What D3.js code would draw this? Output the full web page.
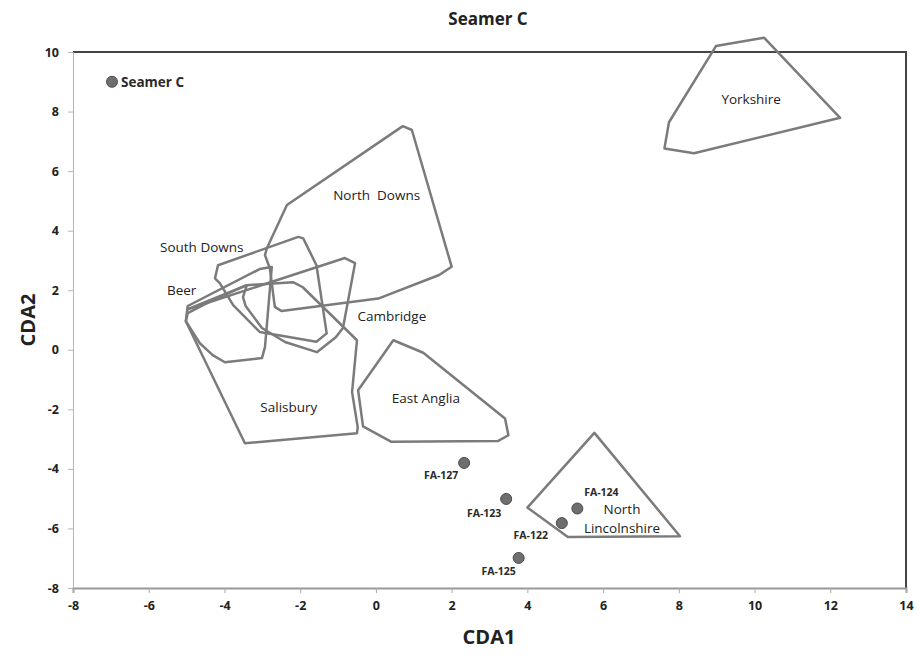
<!DOCTYPE html>
<html>
<head>
<meta charset="utf-8">
<script src="https://cdn.jsdelivr.net/npm/d3@7"></script>
<style>
  html, body { margin: 0; padding: 0; background: #fff; }
  svg { display: block; }
</style>
</head>
<body>
<svg id="chart" width="917" height="655"></svg>
<script>
// ---- data ----
const xTicks = [-8, -6, -4, -2, 0, 2, 4, 6, 8, 10, 12, 14];
const yTicks = [-8, -6, -4, -2, 0, 2, 4, 6, 8, 10];

const pointNames = ["Seamer C", "FA-127", "FA-123", "FA-124", "FA-122", "FA-125"];
const pointX = [-6.97, 2.33, 3.44, 5.32, 4.91, 3.77];
const pointY = [9.00, -3.80, -5.01, -5.33, -5.82, -6.99];

const yorkshire = [[8.98,10.20],[10.25,10.48],[12.26,7.79],[8.40,6.60],[7.62,6.76],[7.74,7.64]];
const northDowns = [[-2.35,4.86],[0.71,7.51],[0.95,7.38],[2.00,2.79],[1.67,2.51],[0.06,1.72],[-2.49,1.30],[-2.67,1.44],[-2.80,2.73],[-2.93,3.18],[-2.88,3.41]];
const southDowns = [[-4.17,2.84],[-2.05,3.79],[-1.92,3.74],[-1.57,2.84],[-1.30,0.55],[-1.57,0.27],[-3.07,0.60],[-3.77,1.50],[-4.12,2.23],[-4.25,2.40]];
const beer = [[-4.97,1.47],[-3.07,2.71],[-2.75,2.78],[-2.93,0.09],[-3.01,-0.28],[-3.99,-0.42],[-4.31,-0.18],[-4.65,0.22],[-5.02,0.96]];
const cambridge = [[-4.97,1.36],[-0.82,3.08],[-0.55,2.91],[-0.87,0.73],[-1.06,0.42],[-1.56,-0.08],[-2.40,0.26],[-3.01,0.73],[-3.44,1.47],[-3.51,1.77],[-3.41,2.17]];
const salisbury = [[-5.02,0.96],[-3.46,-3.14],[-0.50,-2.80],[-0.48,-2.60],[-0.63,-1.42],[-0.50,0.32],[-1.93,2.10],[-2.19,2.27],[-3.41,2.17],[-4.31,1.67],[-4.97,1.23]];
const eastAnglia = [[0.46,0.32],[1.25,-0.10],[3.41,-2.31],[3.50,-2.87],[3.23,-3.06],[0.41,-3.09],[-0.34,-2.57],[-0.47,-1.36]];
const northLincs = [[5.77,-2.79],[8.03,-6.26],[5.07,-6.29],[4.00,-5.30]];

const regionNames = ["Yorkshire", "North  Downs", "South Downs", "Beer", "Cambridge", "Salisbury", "East Anglia", "North\nLincolnshire"];
const regionPolys = [yorkshire, northDowns, southDowns, beer, cambridge, salisbury, eastAnglia, northLincs];
const regionLabelX = [9.91, 0.02, -4.60, -5.13, 0.42, -2.30, 1.32, 6.50];
const regionLabelY = [8.42, 5.19, 3.45, 2.00, 1.12, -1.93, -1.63, -5.69];

// ---- layout ----
const svg = d3.select("#chart");
const mL = 73, mR = 906, mT = 52, mB = 588;
const x = d3.scaleLinear().domain([-8, 14]).range([mL, mR]);
const y = d3.scaleLinear().domain([-8, 10]).range([mB, mT]);
const font = "'Open Sans', 'Liberation Sans', sans-serif";

// frame: top and right dark borders
svg.append("line").attr("x1", mL).attr("x2", mR).attr("y1", mT).attr("y2", mT)
  .attr("stroke", "#444").attr("stroke-width", 2);
svg.append("line").attr("x1", mR).attr("x2", mR).attr("y1", mT - 1).attr("y2", mB)
  .attr("stroke", "#444").attr("stroke-width", 2);

// y axis
const yAxis = svg.append("g").attr("transform", `translate(${mL},0)`)
  .call(d3.axisLeft(y).tickValues(yTicks).tickSize(5).tickPadding(9).tickFormat(d3.format("d")));
yAxis.select(".domain").attr("stroke", "#b5b5b5").attr("stroke-width", 1);
yAxis.selectAll(".tick line").attr("stroke", "#b5b5b5");
yAxis.selectAll(".tick text").attr("font-family", font).attr("font-weight", "bold")
  .attr("font-size", 12.5).attr("fill", "#222").text(d => d < 0 ? "-" + Math.abs(d) : d);

// x axis
const xAxis = svg.append("g").attr("transform", `translate(0,${mB})`)
  .call(d3.axisBottom(x).tickValues(xTicks).tickSize(5).tickPadding(8).tickFormat(d3.format("d")));
xAxis.select(".domain").attr("stroke", "#999").attr("stroke-width", 2);
xAxis.selectAll(".tick line").attr("stroke", "#aaa");
xAxis.selectAll(".tick text").attr("font-family", font).attr("font-weight", "bold")
  .attr("font-size", 12.5).attr("fill", "#222").text(d => d < 0 ? "-" + Math.abs(d) : d);

// polygons
const line = d3.line().x(d => x(d[0])).y(d => y(d[1])).curve(d3.curveLinearClosed);
svg.append("g").selectAll("path").data(regionPolys).join("path")
  .attr("d", line).attr("fill", "none").attr("stroke", "#7b7b7b")
  .attr("stroke-width", 2.5).attr("stroke-linejoin", "round");

// region labels
const rl = svg.append("g").attr("font-family", font).attr("font-size", 13.5).attr("fill", "#222")
  .attr("text-anchor", "middle");
regionNames.forEach((name, i) => {
  const lines = name.split("\n");
  const t = rl.append("text").attr("x", x(regionLabelX[i])).attr("y", y(regionLabelY[i]))
    .style("white-space", "pre");
  lines.forEach((ln, j) => {
    t.append("tspan").attr("x", x(regionLabelX[i]))
      .attr("dy", j === 0 ? (lines.length > 1 ? -5 : 5) : 19).text(ln);
  });
});

// points
const pts = pointNames.map((n, i) => ({ name: n, x: pointX[i], y: pointY[i] }));
svg.append("g").selectAll("circle").data(pts).join("circle")
  .attr("cx", d => x(d.x)).attr("cy", d => y(d.y)).attr("r", 5.5)
  .attr("fill", "#6e6e6e").attr("stroke", "#4a4a4a").attr("stroke-width", 1);

// point labels
const labelPlace = {
  "Seamer C": { dx: 9, dy: 5, anchor: "start", size: 13.5 },
  "FA-127": { dx: -23, dy: 16, anchor: "middle", size: 10.5 },
  "FA-123": { dx: -22, dy: 18, anchor: "middle", size: 10.5 },
  "FA-124": { dx: 24, dy: -12, anchor: "middle", size: 10.5 },
  "FA-122": { dx: -31, dy: 16, anchor: "middle", size: 10.5 },
  "FA-125": { dx: -20, dy: 17, anchor: "middle", size: 10.5 }
};
svg.append("g").selectAll("text").data(pts).join("text")
  .attr("x", d => x(d.x) + labelPlace[d.name].dx)
  .attr("y", d => y(d.y) + labelPlace[d.name].dy)
  .attr("text-anchor", d => labelPlace[d.name].anchor)
  .attr("font-family", font).attr("font-weight", "bold")
  .attr("font-size", d => labelPlace[d.name].size).attr("fill", "#2a2a2a")
  .text(d => d.name);

// title and axis titles
svg.append("text").attr("x", 488).attr("y", 25).attr("text-anchor", "middle")
  .attr("font-family", font).attr("font-weight", "bold").attr("font-size", 17).attr("fill", "#222")
  .text("Seamer C");
svg.append("text").attr("x", 489).attr("y", 644).attr("text-anchor", "middle")
  .attr("font-family", font).attr("font-weight", "bold").attr("font-size", 20).attr("fill", "#222")
  .text("CDA1");
svg.append("text").attr("transform", "translate(35,320) rotate(-90)").attr("text-anchor", "middle")
  .attr("font-family", font).attr("font-weight", "bold").attr("font-size", 20).attr("fill", "#222")
  .text("CDA2");
</script>
</body>
</html>
